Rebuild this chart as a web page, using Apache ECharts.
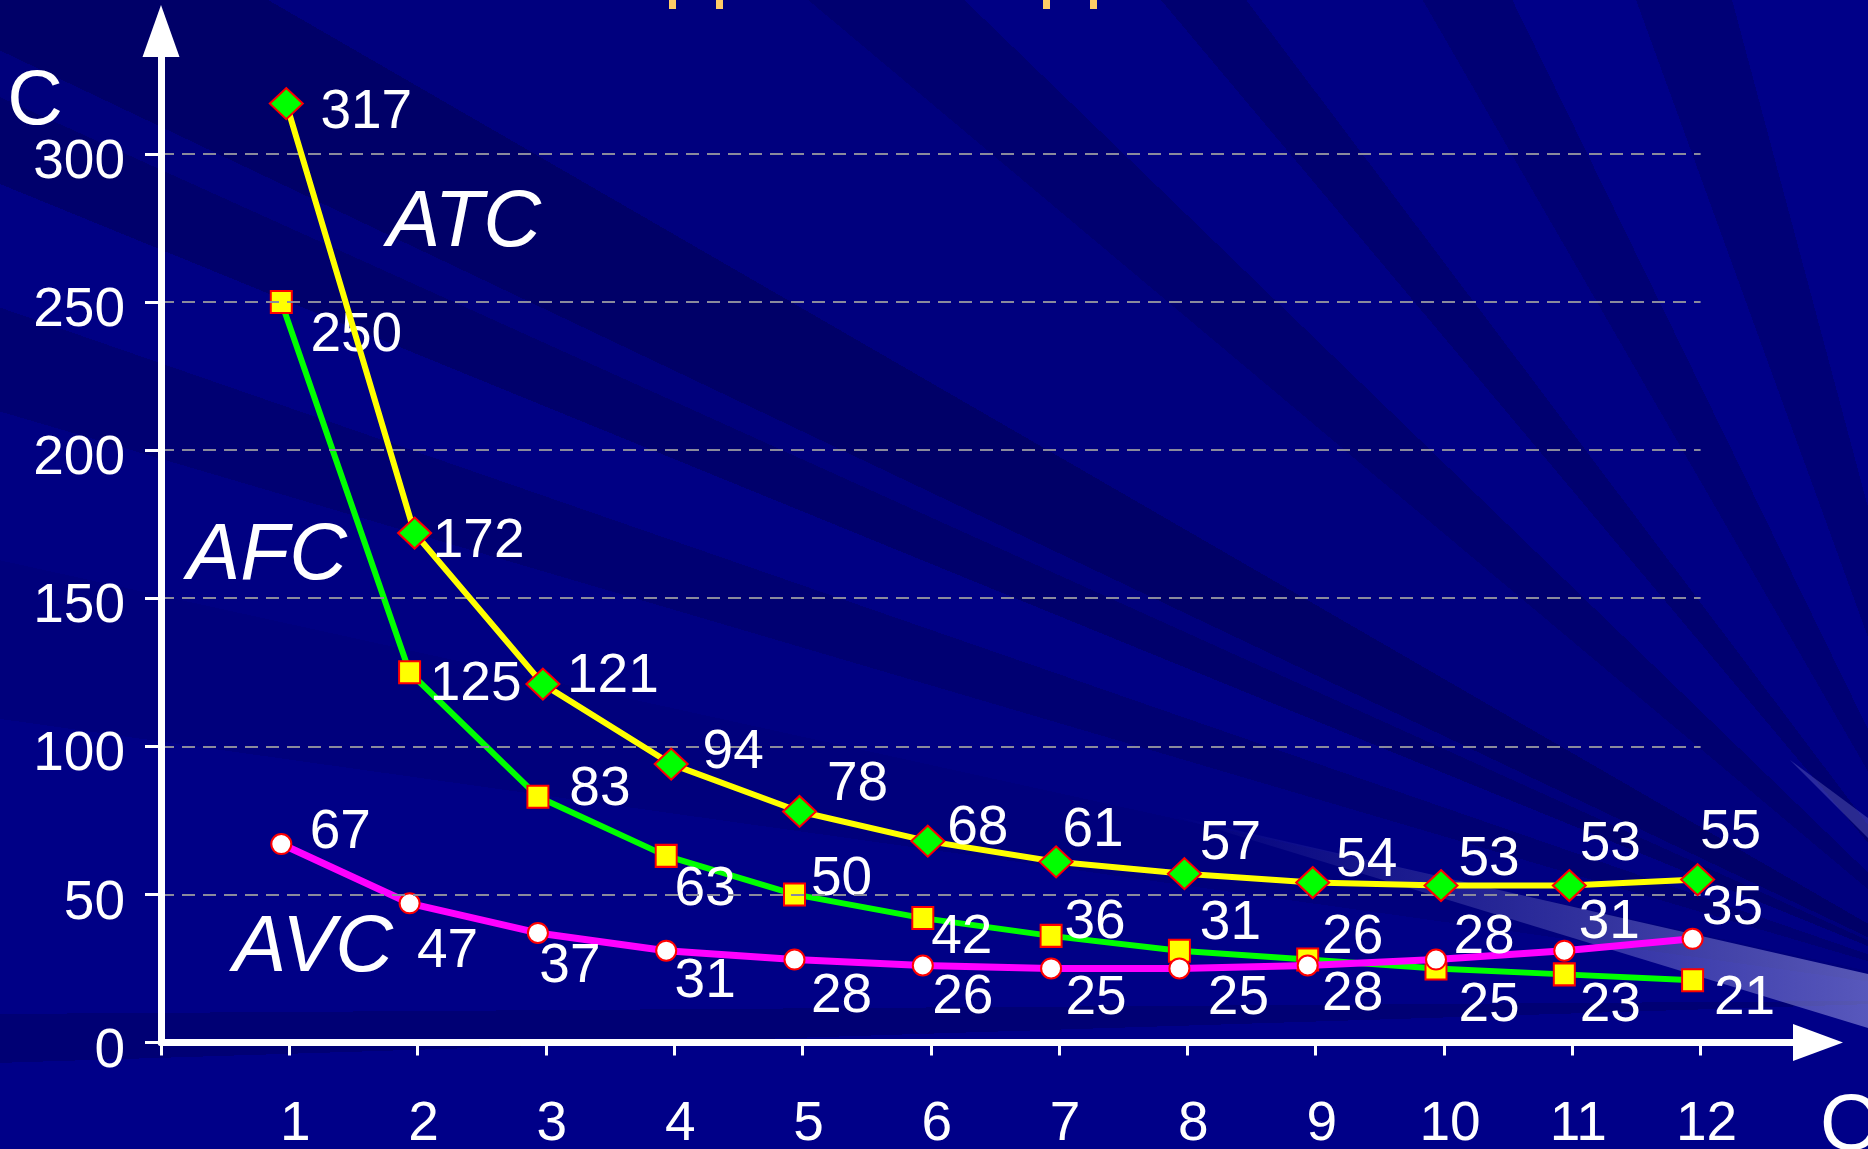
<!DOCTYPE html>
<html>
<head>
<meta charset="utf-8">
<script src="https://cdn.jsdelivr.net/npm/echarts@6/dist/echarts.min.js"></script>
<style>
html,body{margin:0;padding:0;width:1868px;height:1149px;overflow:hidden;background:#000084;}
#bg{position:absolute;left:0;top:0;width:1868px;height:1149px;
background: conic-gradient(from 270deg at 2000px 1000px,
 #000086 0deg 8deg,
 #00007c 8deg 12.4deg,
 #000082 12.4deg 16.4deg,
 #000072 16.4deg 19.1deg,
 #000084 19.1deg 22.2deg,
 #00006c 22.2deg 24.3deg,
 #00007c 24.3deg 25.4deg,
 #000068 25.4deg 30deg,
 #00007e 30deg 40deg,
 #000070 40deg 44deg,
 #000084 44deg 50deg,
 #000070 50deg 53deg,
 #000084 53deg 60deg,
 #000074 60deg 64deg,
 #000088 64deg 70deg,
 #000076 70deg 75deg,
 #000088 75deg 90deg,
 #000088 90deg 358.2deg,
 #000074 358.2deg 359.6deg,
 #000086 359.6deg 360deg);}
#chart{position:absolute;left:0;top:0;width:1868px;height:1149px;}
</style>
</head>
<body>
<div id="bg"></div>
<div id="chart"></div>
<script>
// ---- data ----
const quantity = [1, 2, 3, 4, 5, 6, 7, 8, 9, 10, 11, 12];
const atcValues = [317, 172, 121, 94, 78, 68, 61, 57, 54, 53, 53, 55];
const afcValues = [250, 125, 83, 63, 50, 42, 36, 31, 28, 25, 23, 21];
const avcValues = [67, 47, 37, 31, 28, 26, 25, 25, 26, 28, 31, 35];
const costTicks = [0, 50, 100, 150, 200, 250, 300];
const gridCosts = [50, 100, 150, 200, 250, 300];
const quantityTicks = [0, 1, 2, 3, 4, 5, 6, 7, 8, 9, 10, 11, 12];
const quantityLabels = [1, 2, 3, 4, 5, 6, 7, 8, 9, 10, 11, 12];

// ---- layout (label nudges, px) ----
const atcLabelOffset = [[80,9],[64,9],[70,-7],[62,-11],[58,-27],[50,-12],[37,-31],[46,-30],[54,-22],[48,-26],[41,-41],[33,-47]];
const afcLabelOffset = [[75,34],[66,13],[62,-7],[39,34],[47,-15],[39,20],[44,-13],[51,-27],[45,35],[53,37],[46,31],[52,19]];
const avcLabelOffset = [[59,-11],[38,49],[32,34],[39,31],[47,37],[40,32],[45,30],[59,30],[45,-28],[48,-22],[45,-28],[40,-30]];

const FONT = "'Liberation Sans', Arial, sans-serif";
const NUM_SIZE = 55;
const X_MAX = 12.915;
const Y_MAX = 341.5;
const UNIT_X = 128.3;
const SHIFT_ATC = 3 / UNIT_X;
const SHIFT_OTHER = 8 / UNIT_X;

function buildData(values, offsets) {
  return quantity.map((q, i) => ({
    value: [q, values[i]],
    label: { offset: offsets[i] }
  }));
}

const labelBase = {
  show: true, position: 'inside', color: '#ffffff', fontSize: NUM_SIZE, fontFamily: FONT,
  textBorderWidth: 0, formatter: p => String(p.value[1])
};

const chart = echarts.init(document.getElementById('chart'), null, { renderer: 'canvas' });

const option = {
  backgroundColor: 'transparent',
  animation: false,
  grid: { left: 161, right: 50, top: 31, bottom: 106.5, containLabel: false, outerBoundsMode: 'none' },
  xAxis: [
    {
      type: 'value', min: 0, max: X_MAX, interval: 1, z: 5,
      axisLine: { show: true, symbol: ['none', 'triangle'], symbolSize: [37, 50],
        lineStyle: { color: '#ffffff', width: 7 } },
      axisTick: { show: true, customValues: quantityTicks, length: 13, lineStyle: { color: '#ffffff', width: 3 } },
      axisLabel: { show: true, customValues: quantityLabels, margin: 54, color: '#ffffff', fontSize: NUM_SIZE,
        fontFamily: FONT, lineHeight: 56, padding: [0, 0, 0, 12],
        formatter: v => (v >= 1 && v <= 12 && Math.abs(v - Math.round(v)) < 1e-6) ? String(Math.round(v)) : '' },
      splitLine: { show: false }
    },
    { type: 'value', show: false, min: SHIFT_ATC, max: X_MAX + SHIFT_ATC, splitLine: { show: false } },
    { type: 'value', show: false, min: SHIFT_OTHER, max: X_MAX + SHIFT_OTHER, splitLine: { show: false } }
  ],
  yAxis: [
    {
      type: 'value', min: 0, max: Y_MAX, interval: 50, z: 5,
      axisLine: { show: true, symbol: ['none', 'triangle'], symbolSize: [37, 52],
        lineStyle: { color: '#ffffff', width: 7 } },
      axisTick: { show: true, customValues: costTicks, length: 16, lineStyle: { color: '#ffffff', width: 3 } },
      axisLabel: { show: true, customValues: costTicks, margin: 36, color: '#ffffff', fontSize: NUM_SIZE,
        fontFamily: FONT, verticalAlign: 'top', lineHeight: 18,
        formatter: v => (v <= 300 && v % 50 === 0) ? String(v) : '' },
      splitLine: { show: false }
    }
  ],
  graphic: [
    { type: 'polygon', z: -1, silent: true,
      shape: { points: [[1170, 815], [1868, 974], [1868, 1028]] },
      style: { fill: new echarts.graphic.LinearGradient(0, 0, 1, 0, [
        { offset: 0, color: 'rgba(150,150,230,0)' },
        { offset: 0.4, color: 'rgba(160,160,235,0.2)' },
        { offset: 1, color: 'rgba(175,175,240,0.5)' }]) } },
    { type: 'polygon', z: -1, silent: true,
      shape: { points: [[1790, 760], [1868, 818], [1868, 838]] },
      style: { fill: 'rgba(140,140,220,0.3)' } },
    { type: 'rect', z: 1, silent: true, shape: { x: 669, y: 0, width: 7, height: 9 }, style: { fill: '#FFCC66' } },
    { type: 'rect', z: 1, silent: true, shape: { x: 716, y: 0, width: 7, height: 9 }, style: { fill: '#FFCC66' } },
    { type: 'rect', z: 1, silent: true, shape: { x: 1043, y: 0, width: 7, height: 9 }, style: { fill: '#FFCC66' } },
    { type: 'rect', z: 1, silent: true, shape: { x: 1090, y: 0, width: 7, height: 9 }, style: { fill: '#FFCC66' } },
    { type: 'text', z: 10, silent: true, x: 35, y: 103,
      style: { text: 'C', fill: '#ffffff', fontSize: 77, fontFamily: FONT, align: 'center', verticalAlign: 'middle' } },
    { type: 'text', z: 10, silent: true, x: 1820, y: 1128,
      style: { text: 'Q', fill: '#ffffff', fontSize: 80, fontFamily: FONT, align: 'left', verticalAlign: 'middle' } },
    { type: 'text', z: 10, silent: true, x: 464, y: 224,
      style: { text: 'ATC', fill: '#ffffff', fontSize: 80, fontStyle: 'italic', fontFamily: FONT, align: 'center', verticalAlign: 'middle' } },
    { type: 'text', z: 10, silent: true, x: 267, y: 557,
      style: { text: 'AFC', fill: '#ffffff', fontSize: 80, fontStyle: 'italic', fontFamily: FONT, align: 'center', verticalAlign: 'middle' } },
    { type: 'text', z: 10, silent: true, x: 313, y: 949,
      style: { text: 'AVC', fill: '#ffffff', fontSize: 80, fontStyle: 'italic', fontFamily: FONT, align: 'center', verticalAlign: 'middle' } }
  ],
  series: [
    {
      name: 'grid', type: 'line', xAxisIndex: 0, yAxisIndex: 0, data: [], z: 1, silent: true,
      markLine: {
        silent: true, symbol: ['none', 'none'], label: { show: false },
        lineStyle: { color: '#8a8a9c', width: 2, type: [13, 8] },
        emphasis: { disabled: true },
        data: gridCosts.map(v => [{ coord: [0, v] }, { coord: [12, v] }])
      }
    },
    {
      name: 'AFC', type: 'line', xAxisIndex: 2, yAxisIndex: 0, z: 3,
      data: buildData(afcValues, afcLabelOffset),
      symbol: 'rect', symbolSize: [21, 22],
      itemStyle: { color: '#FFFF00', borderColor: '#FF0000', borderWidth: 2 },
      lineStyle: { color: '#00FF00', width: 6 },
      label: labelBase, emphasis: { disabled: true }
    },
    {
      name: 'AVC', type: 'line', xAxisIndex: 2, yAxisIndex: 0, z: 4,
      data: buildData(avcValues, avcLabelOffset),
      symbol: 'circle', symbolSize: 20,
      itemStyle: { color: '#FFFFFF', borderColor: '#FF0000', borderWidth: 2 },
      lineStyle: { color: '#FF00FF', width: 7 },
      label: labelBase, emphasis: { disabled: true }
    },
    {
      name: 'ATC', type: 'line', xAxisIndex: 1, yAxisIndex: 0, z: 5,
      data: buildData(atcValues, atcLabelOffset),
      symbol: 'diamond', symbolSize: [33, 31],
      itemStyle: { color: '#00FF00', borderColor: '#FF0000', borderWidth: 2 },
      lineStyle: { color: '#FFFF00', width: 6 },
      label: labelBase, emphasis: { disabled: true }
    }
  ]
};
chart.setOption(option);
</script>
</body>
</html>
